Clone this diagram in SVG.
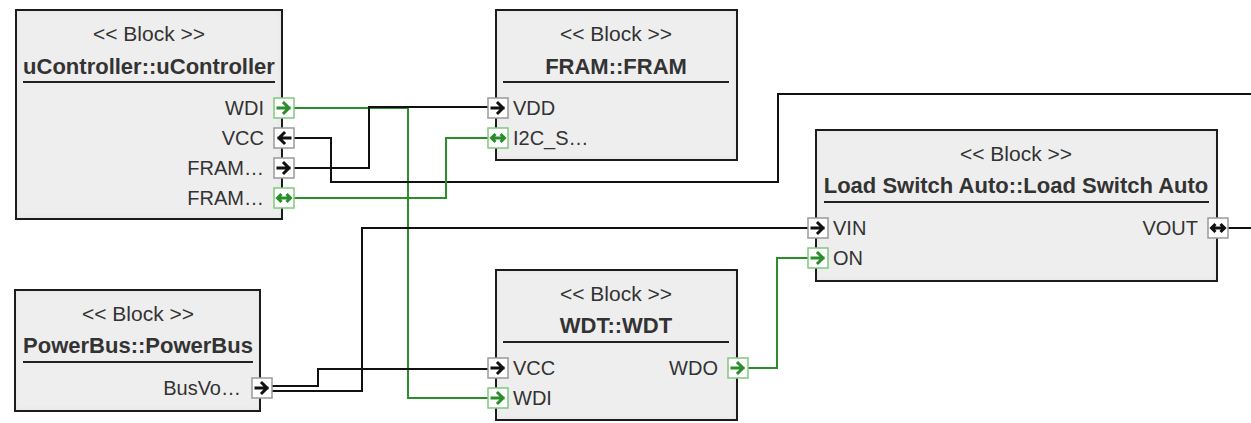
<svg xmlns="http://www.w3.org/2000/svg" xmlns:xlink="http://www.w3.org/1999/xlink" width="1251" height="423" viewBox="0 0 1251 423">
<style>
.blk{fill:#eeeeee;stroke:#222;stroke-width:2;}
.st{font-family:"Liberation Sans",Arial,sans-serif;font-size:21px;fill:#333;text-anchor:middle;}
.ti{font-family:"Liberation Sans",Arial,sans-serif;font-size:22px;font-weight:bold;fill:#333;text-anchor:middle;}
.ul{stroke:#222;stroke-width:2;}
.pl{font-family:"Liberation Sans",Arial,sans-serif;font-size:20px;fill:#333;}
.end{text-anchor:end;}
.pb{fill:#fff;stroke-width:1.5;}
.pk .pb{stroke:#9a9a9a;}
.pg .pb{stroke:#7fc97f;}
.pk{color:#111;}
.pg{color:#2a8f2a;}
.ck{fill:none;stroke:#111;stroke-width:2;}
.cg{fill:none;stroke:#2a8f2a;stroke-width:2;}
</style>
<defs>
<filter id="inner" x="-5%" y="-5%" width="110%" height="110%">
<feFlood flood-color="#000" flood-opacity="0.18"/>
<feComposite in2="SourceAlpha" operator="out"/>
<feGaussianBlur stdDeviation="3"/>
<feComposite in2="SourceAlpha" operator="in" result="sh"/>
<feMerge><feMergeNode in="SourceGraphic"/><feMergeNode in="sh"/></feMerge>
</filter>
<g id="aR" fill="none" stroke="currentColor" stroke-width="3" stroke-linecap="square"><path d="M-6,0H5M0,-5L5,0L0,5"/></g>
<g id="aL" fill="none" stroke="currentColor" stroke-width="3" stroke-linecap="square"><path d="M6,0H-5M0,-5L-5,0L0,5"/></g>
<g id="aB" fill="none" stroke="currentColor" stroke-width="3"><path d="M-6,0H6M-2.5,-4L-6.5,0L-2.5,4M2.5,-4L6.5,0L2.5,4"/></g>
</defs>

<g id="connectors">
<path class="cg" d="M294,108H408V398H488"/>
<path class="ck" d="M294,138H331V182H778V94H1251"/>
<path class="ck" d="M294,168H369V107H488"/>
<path class="cg" d="M294,198H446V138H488"/>
<path class="ck" d="M272,386H318V369H488"/>
<path class="ck" d="M272,391H362V228H808"/>
<path class="cg" d="M748,368H777V258H808"/>
<path class="ck" d="M1228,228H1251"/>
</g>

<g id="uController">
<rect class="blk" x="16" y="10" width="266" height="209" filter="url(#inner)"/>
<text class="st" x="149" y="41">&lt;&lt; Block &gt;&gt;</text>
<text class="ti" x="149" y="74">uController::uController</text>
<line class="ul" x1="23" y1="82" x2="275" y2="82"/>
<g class="pg"><rect class="pb" x="274" y="98" width="20" height="20"/><use xlink:href="#aR" x="284" y="108"/></g>
<text class="pl end" x="264" y="115">WDI</text>
<g class="pk"><rect class="pb" x="274" y="128" width="20" height="20"/><use xlink:href="#aL" x="284" y="138"/></g>
<text class="pl end" x="264" y="145">VCC</text>
<g class="pk"><rect class="pb" x="274" y="158" width="20" height="20"/><use xlink:href="#aR" x="284" y="168"/></g>
<text class="pl end" x="264" y="175">FRAM…</text>
<g class="pg"><rect class="pb" x="274" y="188" width="20" height="20"/><use xlink:href="#aB" x="284" y="198"/></g>
<text class="pl end" x="264" y="205">FRAM…</text>
</g>

<g id="FRAM">
<rect class="blk" x="496" y="10" width="241" height="150" filter="url(#inner)"/>
<text class="st" x="616" y="41">&lt;&lt; Block &gt;&gt;</text>
<text class="ti" x="616" y="74">FRAM::FRAM</text>
<line class="ul" x1="503" y1="82" x2="729" y2="82"/>
<g class="pk"><rect class="pb" x="488" y="98" width="20" height="20"/><use xlink:href="#aR" x="498" y="108"/></g>
<text class="pl" x="513" y="115">VDD</text>
<g class="pg"><rect class="pb" x="488" y="128" width="20" height="20"/><use xlink:href="#aB" x="498" y="138"/></g>
<text class="pl" x="513" y="145">I2C_S…</text>
</g>

<g id="LoadSwitchAuto">
<rect class="blk" x="816" y="130" width="401" height="151" filter="url(#inner)"/>
<text class="st" x="1016" y="161">&lt;&lt; Block &gt;&gt;</text>
<text class="ti" x="1016" y="193">Load Switch Auto::Load Switch Auto</text>
<line class="ul" x1="824" y1="202" x2="1209" y2="202"/>
<g class="pk"><rect class="pb" x="808" y="218" width="20" height="20"/><use xlink:href="#aR" x="818" y="228"/></g>
<text class="pl" x="833" y="235">VIN</text>
<g class="pg"><rect class="pb" x="808" y="248" width="20" height="20"/><use xlink:href="#aR" x="818" y="258"/></g>
<text class="pl" x="833" y="265">ON</text>
<g class="pk"><rect class="pb" x="1208" y="218" width="20" height="20"/><use xlink:href="#aB" x="1218" y="228"/></g>
<text class="pl end" x="1198" y="235">VOUT</text>
</g>

<g id="PowerBus">
<rect class="blk" x="15" y="290" width="245" height="121" filter="url(#inner)"/>
<text class="st" x="138" y="321">&lt;&lt; Block &gt;&gt;</text>
<text class="ti" x="138" y="353">PowerBus::PowerBus</text>
<line class="ul" x1="23" y1="362" x2="253" y2="362"/>
<g class="pk"><rect class="pb" x="252" y="378" width="20" height="20"/><use xlink:href="#aR" x="262" y="388"/></g>
<text class="pl end" x="241" y="395">BusVo…</text>
</g>

<g id="WDT">
<rect class="blk" x="496" y="270" width="241" height="150" filter="url(#inner)"/>
<text class="st" x="616" y="301">&lt;&lt; Block &gt;&gt;</text>
<text class="ti" x="616" y="333">WDT::WDT</text>
<line class="ul" x1="503" y1="342" x2="729" y2="342"/>
<g class="pk"><rect class="pb" x="488" y="358" width="20" height="20"/><use xlink:href="#aR" x="498" y="368"/></g>
<text class="pl" x="513" y="375">VCC</text>
<g class="pg"><rect class="pb" x="488" y="388" width="20" height="20"/><use xlink:href="#aR" x="498" y="398"/></g>
<text class="pl" x="513" y="405">WDI</text>
<g class="pg"><rect class="pb" x="728" y="358" width="20" height="20"/><use xlink:href="#aR" x="738" y="368"/></g>
<text class="pl end" x="718" y="375">WDO</text>
</g>
</svg>
